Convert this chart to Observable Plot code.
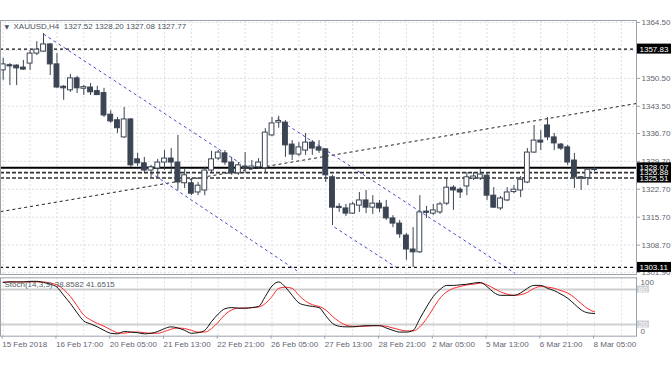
<!DOCTYPE html>
<html><head><meta charset="utf-8">
<script src="https://cdn.jsdelivr.net/npm/d3@7"></script>
<script src="https://cdn.jsdelivr.net/npm/@observablehq/plot@0.6"></script>
<style>
html,body{margin:0;padding:0;background:#fff;}
#wrap{position:relative;width:672px;height:372px;overflow:hidden;}
#main{position:absolute;left:0;top:0;}
#stoch{position:absolute;left:0;top:275px;}
</style></head><body><div id="wrap"><div id="main"></div><div id="stoch"></div></div>
<script>
const opens  = [1352.5,1353.8,1353.7,1353.2,1354.2,1356.7,1357.2,1359.0,1354.0,1348.4,1347.5,1350.5,1347.9,1348.2,1347.3,1346.8,1341.4,1340.0,1335.7,1340.2,1330.2,1329.2,1327.4,1327.9,1329.4,1330.4,1329.4,1324.2,1324.2,1321.9,1322.4,1327.4,1330.4,1331.7,1329.4,1326.7,1328.4,1328.0,1328.2,1328.0,1336.2,1339.4,1339.4,1333.9,1331.4,1332.4,1334.4,1333.2,1332.7,1325.7,1318.3,1317.9,1316.6,1318.6,1319.9,1318.1,1319.1,1318.1,1315.4,1314.1,1311.1,1307.6,1306.9,1317.1,1316.6,1316.9,1319.1,1323.1,1322.6,1323.4,1325.4,1325.4,1326.1,1321.1,1317.9,1319.9,1322.0,1322.4,1324.4,1331.9,1334.9,1338.7,1335.7,1333.9,1333.2,1329.9,1325.7,1325.5,1327.52];
const highs  = [1355.5,1354.2,1353.9,1355.0,1357.5,1359.7,1361.7,1359.2,1356.7,1348.7,1351.5,1351.0,1348.7,1349.2,1348.5,1348.0,1342.4,1340.7,1343.2,1340.4,1331.7,1330.7,1328.7,1330.2,1332.4,1332.9,1336.2,1327.9,1325.4,1324.4,1328.2,1332.2,1332.4,1332.4,1330.7,1329.4,1331.9,1329.9,1330.4,1337.9,1340.7,1341.0,1339.9,1334.9,1334.4,1336.7,1334.9,1334.9,1332.9,1326.2,1319.1,1318.9,1319.4,1321.9,1322.4,1321.1,1319.9,1319.9,1316.1,1314.9,1311.6,1313.1,1321.1,1318.4,1318.9,1319.4,1325.4,1323.6,1323.1,1326.9,1326.9,1327.7,1326.7,1323.1,1320.9,1323.1,1323.6,1325.9,1332.9,1338.7,1337.4,1340.7,1336.7,1334.2,1333.7,1331.7,1325.9,1327.9,1328.20];
const lows   = [1350.0,1348.7,1348.7,1352.5,1352.5,1356.2,1357.0,1351.2,1348.0,1345.0,1347.0,1346.7,1346.2,1346.2,1346.2,1340.7,1339.2,1336.7,1335.4,1328.2,1328.4,1326.9,1325.6,1325.6,1327.4,1326.7,1322.4,1322.9,1321.1,1321.1,1321.1,1326.9,1329.9,1328.7,1326.2,1326.2,1326.7,1327.4,1327.9,1326.7,1335.9,1338.0,1330.7,1329.9,1330.9,1331.2,1331.2,1331.7,1324.4,1313.6,1316.9,1315.9,1316.4,1316.9,1316.6,1316.4,1316.9,1314.9,1313.1,1310.4,1304.9,1303.1,1306.6,1315.4,1316.1,1316.4,1318.6,1317.4,1320.4,1321.1,1324.9,1324.9,1319.9,1317.9,1317.4,1319.6,1321.6,1320.6,1324.1,1331.7,1332.4,1334.9,1332.4,1332.4,1328.7,1322.9,1322.4,1323.6,1327.08];
const closes = [1354.0,1353.5,1353.0,1352.7,1356.7,1357.7,1359.0,1354.0,1348.2,1348.0,1350.5,1348.0,1348.3,1347.0,1346.3,1341.2,1339.7,1338.0,1340.2,1328.7,1329.2,1327.4,1328.2,1329.4,1330.4,1329.4,1324.4,1326.2,1321.6,1323.6,1327.4,1330.2,1331.9,1329.4,1326.7,1328.7,1328.0,1328.4,1329.4,1336.9,1339.2,1339.8,1333.7,1331.4,1333.2,1334.4,1332.9,1332.4,1326.2,1318.1,1318.0,1316.6,1318.9,1319.9,1318.1,1319.1,1317.9,1315.4,1314.1,1311.4,1307.6,1306.9,1316.9,1316.8,1317.4,1318.9,1323.1,1322.4,1321.9,1325.7,1325.9,1326.4,1321.1,1318.1,1320.4,1321.9,1322.6,1325.1,1331.9,1334.9,1334.4,1335.7,1334.2,1332.9,1329.4,1325.7,1325.4,1327.6,1327.77];

const stochK = [92,93,93,93,94,94,92,89,84,70,56,40,26,21,16,10,5,4,8,7,6,4,5,8,13,16,14,10,5,6,10,25,38,47,49,48,48,49,51,68,86,93,84,70,57,53,51,49,35,22,17,16,16,17,18,18,18,14,10,7,7,10,30,50,68,80,87,87,88,89,91,92,85,75,70,70,70,74,82,87,87,82,78,72,65,55,45,40,38.86];
const stochD = [92.5,93,93,93,93,93,93,91,88,80,68,52,36,28,22,17,11,6,5,7,7,6,5,5,8,12,14,13,10,7,7,13,24,37,45,48,48,49,50,56,68,82,84,82,70,60,54,51,45,34,25,19,17,17,17,18,18,17,14,11,9,9,16,30,48,65,76,82,85,88,89,91,88,82,76,72,70,71,75,82,85,84,82,78,74,66,56,47,41.65];

const timeLabels = ["15 Feb 2018","16 Feb 17:00","20 Feb 05:00","21 Feb 13:00","22 Feb 21:00","26 Feb 05:00","27 Feb 13:00","28 Feb 21:00","2 Mar 05:00","5 Mar 13:00","6 Mar 21:00","8 Mar 05:00"];
const timeLabelBars = [0,8,16,24,32,40,48,56,64,72,80,88];
const gridBars = [0,4,8,12,16,20,24,28,32,36,40,44,48,52,56,60,64,68,72,76,80,84,88,92];
const gridPrices = [1364.5,1357.5,1350.5,1343.5,1336.7,1329.7,1322.7,1315.7,1308.7,1301.9];
const priceTicks = [1364.5,1350.5,1343.5,1336.7,1329.7,1322.7,1315.7,1308.7,1301.9];

// horizontal levels
const levelPrices = [1357.83,1303.11,1326.88,1325.51,1328.07];
const levelKinds  = ["dot","dot","dash","dash","solid"];

// trend lines (bar index, price)
const chanX1 = [6.0, 21.9, 40.8, 49.3];
const chanY1 = [1361.6,1326.9,1340.4,1313.2];
const chanX2 = [35.3, 43.7, 76.2, 58.7];
const chanY2 = [1329.2,1302.3,1301.6,1302.9];
const riseX = [-0.4, 94.24];
const riseY = [1317.1, 1344.2];

const stochLevels = [80,20];
const header = "XAUUSD,H4  1327.52 1328.20 1327.08 1327.77";
const stochHeader = "Stoch(14,3,3) 38.8582 41.6515";

const FONT = "Liberation Sans, Arial, sans-serif";
const DARK = "#3b4452";
const AX = "#5f6670";
const GRID = "#dcdfe3";
const XDOM = [-0.402, 94.24];

const bars = opens.map((o,i)=>({i,o,h:highs[i],l:lows[i],c:closes[i]}));
const levels = levelPrices.map((p,k)=>({p,kind:levelKinds[k],label:p.toFixed(2),ord:k}));
const chans = chanX1.map((x,k)=>({x1:x,y1:chanY1[k],x2:chanX2[k],y2:chanY2[k]}));
const rise = [{x1:riseX[0],y1:riseY[0],x2:riseX[1],y2:riseY[1]}];

const pxPerPrice = 254/(1365.0-1301.34);
const boxHalf = 5/pxPerPrice;
const barPx = 636/(XDOM[1]-XDOM[0]);

const main = Plot.plot({
  width:672, height:276, marginLeft:0, marginRight:36, marginTop:20, marginBottom:2,
  x:{domain:XDOM, axis:null},
  y:{domain:[1301.34,1365.0], axis:null},
  style:{background:"#fff", fontFamily:FONT, fontSize:"8px", overflow:"hidden"},
  marks:[
    Plot.ruleY(gridPrices,{stroke:GRID, strokeDasharray:"2,2"}),
    Plot.ruleX(gridBars,{stroke:GRID, strokeDasharray:"2,2"}),
    Plot.link(rise,{x1:"x1",y1:"y1",x2:"x2",y2:"y2",stroke:"#222",strokeDasharray:"3,3",strokeWidth:1, clip:true}),
    Plot.link(chans,{x1:"x1",y1:"y1",x2:"x2",y2:"y2",stroke:"#4a4ac8",strokeDasharray:"3,3",strokeWidth:1, clip:true}),
    Plot.ruleY(levels.filter(d=>d.kind==="dot"),{y:"p",stroke:"#111",strokeDasharray:"3,3",strokeWidth:1.2}),
    Plot.ruleY(levels.filter(d=>d.kind==="dash"),{y:"p",stroke:"#333",strokeDasharray:"4,2",strokeWidth:1.6}),
    Plot.ruleY(levels.filter(d=>d.kind==="solid"),{y:"p",stroke:"#000",strokeWidth:2}),
    Plot.ruleX(bars,{x:"i",y1:"l",y2:"h",stroke:DARK,strokeWidth:1}),
    Plot.rect(bars,{x1:d=>d.i-0.36,x2:d=>d.i+0.36,y1:d=>Math.min(d.o,d.c),y2:d=>Math.max(d.o,d.c),
      fill:d=>d.c>=d.o?"#fff":DARK, stroke:DARK, strokeWidth:1}),
    Plot.frame({stroke:"#9aa2ab"}),
    Plot.axisY({anchor:"right", ticks:priceTicks, tickFormat:d=>d.toFixed(2), tickSize:3, tickPadding:2, stroke:"#9aa2ab", fill:AX, fontSize:8, label:null}),
    Plot.rect(levels,{x1:XDOM[1]+1/barPx, x2:XDOM[1]+35/barPx, y1:d=>d.p-boxHalf, y2:d=>d.p+boxHalf, fill:"#000"}),
    Plot.text(levels,{x:XDOM[1], y:"p", text:"label", dx:3, textAnchor:"start", fill:"#fff", fontSize:8}),
    Plot.text([header],{frameAnchor:"top-left", dx:13, dy:3, fill:"#4b535c", fontSize:8, lineAnchor:"top"}),
    Plot.text(["▼"],{frameAnchor:"top-left", dx:4, dy:4, fill:"#4b535c", fontSize:6, lineAnchor:"top", fontFamily:"DejaVu Sans"})
  ]
});
document.getElementById("main").appendChild(main);

const stPts = stochK.map((k,i)=>({i,k,d:stochD[i]}));
const stoch = Plot.plot({
  width:672, height:97, marginLeft:0, marginRight:36, marginTop:2.33, marginBottom:36.33,
  x:{domain:XDOM, axis:null},
  y:{domain:[0,100], axis:null},
  style:{background:"#fff", fontFamily:FONT, fontSize:"8px"},
  marks:[
    Plot.ruleX(gridBars,{stroke:GRID, strokeDasharray:"2,2"}),
    Plot.ruleY(stochLevels,{stroke:"#cfcfcf", strokeWidth:2}),
    Plot.line(stPts,{x:"i",y:"d",stroke:"#ff2a2a",strokeWidth:1, curve:"monotone-x"}),
    Plot.line(stPts,{x:"i",y:"k",stroke:"#111",strokeWidth:1, curve:"monotone-x"}),
    Plot.frame({stroke:"#9aa2ab"}),
    Plot.text([stochHeader],{frameAnchor:"top-left", dx:4, dy:3, fill:"#555c64", fontSize:8, lineAnchor:"top"}),
    Plot.axisX({anchor:"bottom", ticks:timeLabelBars, tickFormat:(d,k)=>timeLabels[k], tickSize:3, tickPadding:2, textAnchor:"start", dx:-1, stroke:"#9aa2ab", fill:AX, fontSize:8, label:null}),
    Plot.rect(stochLevels,{x1:XDOM[1]+1/barPx, x2:XDOM[1]+13/barPx, y1:d=>d-6, y2:d=>d+6, fill:"#cdd0d4"}),
    Plot.text(stochLevels,{x:XDOM[1], y:d=>d, text:d=>String(d), dx:2, textAnchor:"start", fill:"#fff", fontSize:8}),
    Plot.text([100],{x:XDOM[1], y:d=>d, text:d=>String(d), dx:4, dy:5, textAnchor:"start", fill:AX, fontSize:8}),
    Plot.text([0],{x:XDOM[1], y:d=>d, text:d=>String(d), dx:4, dy:-5, textAnchor:"start", fill:AX, fontSize:8}),
    Plot.ruleX([XDOM[1]],{y1:0,y2:100,stroke:"#9aa2ab"})
  ]
});
document.getElementById("stoch").appendChild(stoch);
</script></body></html>
